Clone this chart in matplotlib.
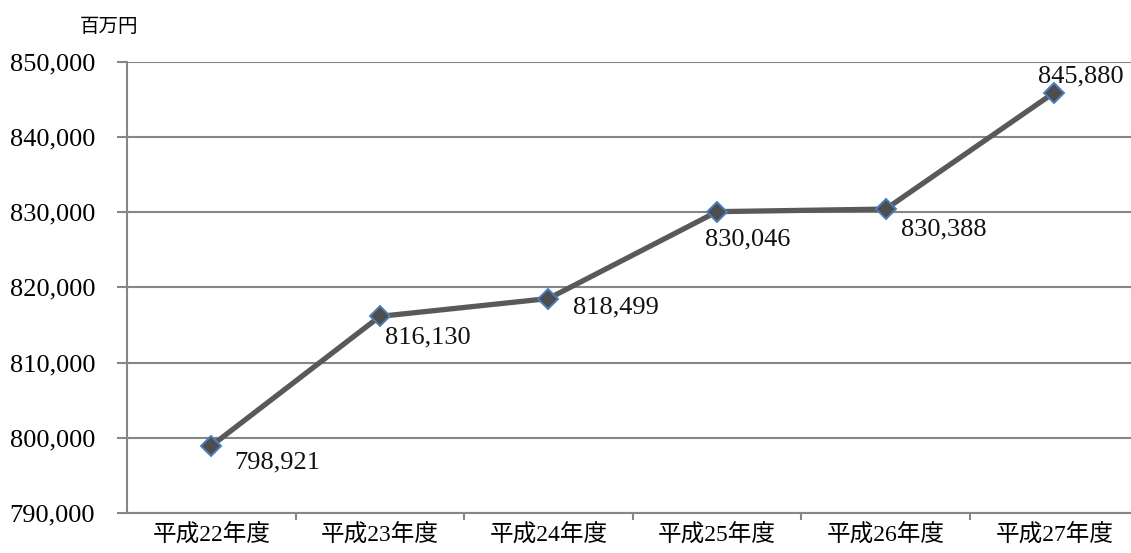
import matplotlib
matplotlib.use("Agg")
import matplotlib.pyplot as plt
from matplotlib.ticker import FuncFormatter, FixedLocator

# データ
nendo = ["平成22年度", "平成23年度", "平成24年度", "平成25年度", "平成26年度", "平成27年度"]
kingaku = [798921, 816130, 818499, 830046, 830388, 845880]
tani = "百万円"

# ラベル位置の微調整 (ピクセル: 左端x, 中心y)
label_offsets = [(23, -17), (5, -21), (25, -9), (-12, -28), (15, -20), (-16, 16)]

FONT = ["Liberation Serif", "Noto Sans CJK JP"]
plt.rcParams["font.family"] = FONT

fig = plt.figure(figsize=(11.31, 5.53), dpi=100)
ax = fig.add_axes([127 / 1131, 40 / 553, (1138.6 - 127) / 1131, (513 - 61.5) / 553])

x = list(range(len(nendo)))
ax.plot(x, kingaku, color="#595959", linewidth=3.8, marker="D", markersize=10,
        markerfacecolor="#4d4d4d", markeredgecolor="#4a7ebb", markeredgewidth=1.4,
        solid_capstyle="round", zorder=3)

for xi, v, (dx, dy) in zip(x, kingaku, label_offsets):
    ax.annotate(f"{v:,}", (xi, v), xytext=(dx, dy), textcoords="offset pixels",
                ha="left", va="center", fontsize=19, color="#111111")

ax.set_xlim(-0.5, len(nendo) - 0.5)
ax.set_ylim(790000, 850000)
ax.yaxis.set_major_locator(FixedLocator(range(790000, 850001, 10000)))
ax.yaxis.set_major_formatter(FuncFormatter(lambda v, p: f"{int(v):,}"))

ax.set_xticks(x)
ax.set_xticklabels(nendo, fontsize=17)
ax.set_xticks([i + 0.5 for i in range(len(nendo))], minor=True)
ax.tick_params(axis="x", which="major", length=0, pad=8)
ax.tick_params(axis="x", which="minor", length=5, width=1.5, color="#868686")
ax.tick_params(axis="y", length=7, width=1.5, color="#868686", pad=16, labelsize=19)

ax.grid(axis="y", color="#868686", linewidth=1.5)
ax.set_axisbelow(True)
for s in ["top", "right"]:
    ax.spines[s].set_visible(False)
for s in ["left", "bottom"]:
    ax.spines[s].set_color("#868686")
    ax.spines[s].set_linewidth(1.5)

fig.text(138 / 1131, 1 - 27 / 553, tani, ha="right", va="center", fontsize=14)

fig.savefig("out.png", dpi=100)
